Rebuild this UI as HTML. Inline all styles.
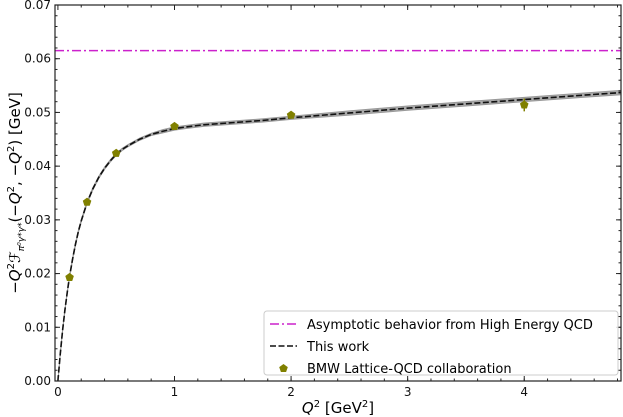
<!DOCTYPE html>
<html><head><meta charset="utf-8"><style>
body{margin:0;background:#fff;}
svg{display:block;font-family:"DejaVu Sans","Liberation Sans",sans-serif;}
</style></head><body>
<svg id="c" width="623" height="417"></svg>
<script>
const curveQ2=[0,0.02,0.04,0.06,0.08,0.1,0.125,0.15,0.175,0.2,0.25,0.3,0.35,0.4,0.45,0.5,0.55,0.6,0.7,0.8,0.9,1,1.1,1.25,1.5,1.75,2,2.5,3,3.5,4,4.5,4.83];
const curveVal=[0,0.0050,0.0094,0.0132,0.0165,0.0195,0.0226,0.0254,0.0278,0.0298,0.0332,0.0358,0.0379,0.0396,0.0410,0.0422,0.0431,0.0438,0.0450,0.0459,0.0465,0.0470,0.0473,0.0477,0.0481,0.0485,0.0490,0.0499,0.0508,0.0516,0.0524,0.0532,0.0537];
const curveErr=[0,0.0001,0.0001,0.0001,0.0001,0.0002,0.0002,0.0002,0.0002,0.0002,0.0002,0.0002,0.0002,0.0002,0.0002,0.0002,0.0002,0.0002,0.0002,0.0002,0.0003,0.0003,0.0003,0.0003,0.0003,0.0003,0.0003,0.0004,0.0004,0.0004,0.0004,0.0004,0.0004];
const latQ2=[0.1,0.25,0.5,1,2,4];
const latVal=[0.0193,0.0333,0.0424,0.0474,0.0495,0.0514];
const latErr=[0.0002,0.0002,0.0003,0.0004,0.0005,0.0012];
const asymVal=0.0615;
const xTicks=[0,1,2,3,4];
const yTicks=[0,0.01,0.02,0.03,0.04,0.05,0.06,0.07];

const L=55,R=621,T=5,B=381;
const xMin=-0.025,xMax=4.83,yMin=0,yMax=0.07;
const X=v=>L+(v-xMin)/(xMax-xMin)*(R-L);
const Y=v=>B-(v-yMin)/(yMax-yMin)*(B-T);
const svg=document.getElementById('c');
const NS='http://www.w3.org/2000/svg';
function mk(tag,attrs,parent){const e=document.createElementNS(NS,tag);for(const k in attrs)e.setAttribute(k,attrs[k]);(parent||svg).appendChild(e);return e;}

const clip=mk('clipPath',{id:'cl'});mk('rect',{x:L,y:T,width:R-L,height:B-T},clip);
const g=mk('g',{'clip-path':'url(#cl)'});
let up=curveQ2.map((q,i)=>X(q)+','+Y(curveVal[i]+curveErr[i]));
let dn=curveQ2.map((q,i)=>X(q)+','+Y(curveVal[i]-curveErr[i])).reverse();
const band=mk('polygon',{points:up.concat(dn).join(' '),fill:'#aaa',stroke:'#999','stroke-width':1},g);


const asym=mk('line',{x1:L,x2:R,y1:Y(asymVal),y2:Y(asymVal),stroke:'#cc22cc','stroke-width':1.5,'stroke-dasharray':'9 3 2 3'},g);


const cur=mk('polyline',{points:curveQ2.map((q,i)=>X(q)+','+Y(curveVal[i])).join(' '),fill:'none',stroke:'#111','stroke-width':1.6,'stroke-dasharray':'6 2.5','stroke-linejoin':'round'},g);


function pent(cx,cy,r){let p=[];for(let k=0;k<5;k++){const a=-Math.PI/2+k*2*Math.PI/5;p.push((cx+r*Math.cos(a))+','+(cy+r*Math.sin(a)));}return p.join(' ');}
latQ2.forEach((q,i)=>{
  const eb=mk('line',{x1:X(q),x2:X(q),y1:Y(latVal[i]-latErr[i]),y2:Y(latVal[i]+latErr[i]),stroke:'#808000','stroke-width':1.5});
  
  
  const p=mk('polygon',{points:pent(X(q),Y(latVal[i]),4.5),fill:'#808000'});
  
  
});
mk('rect',{x:L,y:T,width:R-L,height:B-T,fill:'none',stroke:'#222','stroke-width':1.2,});
xTicks.forEach(t=>{const x=X(t);mk('line',{x1:x,x2:x,y1:B,y2:B-5,stroke:'#222'});mk('line',{x1:x,x2:x,y1:T,y2:T+5,stroke:'#222'});
  const tx=mk('text',{x:x,y:B+15,'font-size':12,'text-anchor':'middle',fill:'#111'});tx.textContent=t;});
for(let t=0.2;t<4.83;t+=0.2){const x=X(t);mk('line',{x1:x,x2:x,y1:B,y2:B-2.5,stroke:'#222'});mk('line',{x1:x,x2:x,y1:T,y2:T+2.5,stroke:'#222'});}
yTicks.forEach(t=>{const y=Y(t);mk('line',{x1:L,x2:L+5,y1:y,y2:y,stroke:'#222'});mk('line',{x1:R,x2:R-5,y1:y,y2:y,stroke:'#222'});
  const tx=mk('text',{x:L-4,y:y+4,'font-size':12,'text-anchor':'end',fill:'#111'});tx.textContent=t.toFixed(2);});
for(let t=0.002;t<0.07;t+=0.002){const y=Y(t);mk('line',{x1:L,x2:L+2.5,y1:y,y2:y,stroke:'#222'});mk('line',{x1:R,x2:R-2.5,y1:y,y2:y,stroke:'#222'});}
</script>
<svg width="623" height="417" style="position:absolute;left:0;top:0" font-family="DejaVu Sans, Liberation Sans, sans-serif">
<text x="338" y="413" font-size="15" text-anchor="middle"><tspan font-style="italic">Q</tspan><tspan dy="-6" font-size="10">2</tspan><tspan dy="6"> [GeV</tspan><tspan dy="-6" font-size="10">2</tspan><tspan dy="6">]</tspan></text>
<text transform="translate(20,193) rotate(-90)" font-size="15" text-anchor="middle">−<tspan font-style="italic">Q</tspan><tspan dy="-6" font-size="10">2</tspan><tspan dy="6" font-style="italic">ℱ</tspan><tspan dy="4" font-size="9" font-style="italic">π⁰γ*γ*</tspan><tspan dy="-4">(−</tspan><tspan font-style="italic">Q</tspan><tspan dy="-6" font-size="10">2</tspan><tspan dy="6">, −</tspan><tspan font-style="italic">Q</tspan><tspan dy="-6" font-size="10">2</tspan><tspan dy="6">) [GeV]</tspan></text>
<g>
<rect x="264" y="311" width="354" height="64" rx="3" fill="#fff" fill-opacity="0.85" stroke="#ccc"/>
<line x1="270" x2="297" y1="324" y2="324" stroke="#cc22cc" stroke-width="1.5" stroke-dasharray="9 3 2 3"/>
<text x="307" y="329" font-size="13">Asymptotic behavior from High Energy QCD</text>
<line x1="270" x2="297" y1="346" y2="346" stroke="#111" stroke-width="1.6" stroke-dasharray="6 2.5"/>
<text x="307" y="351" font-size="13">This work</text>
<polygon points="283.5,364 287.8,367.1 286.1,372 280.9,372 279.2,367.1" fill="#808000"/>
<text x="307" y="373" font-size="13">BMW Lattice-QCD collaboration</text>
</g>
</svg>
</body></html>
